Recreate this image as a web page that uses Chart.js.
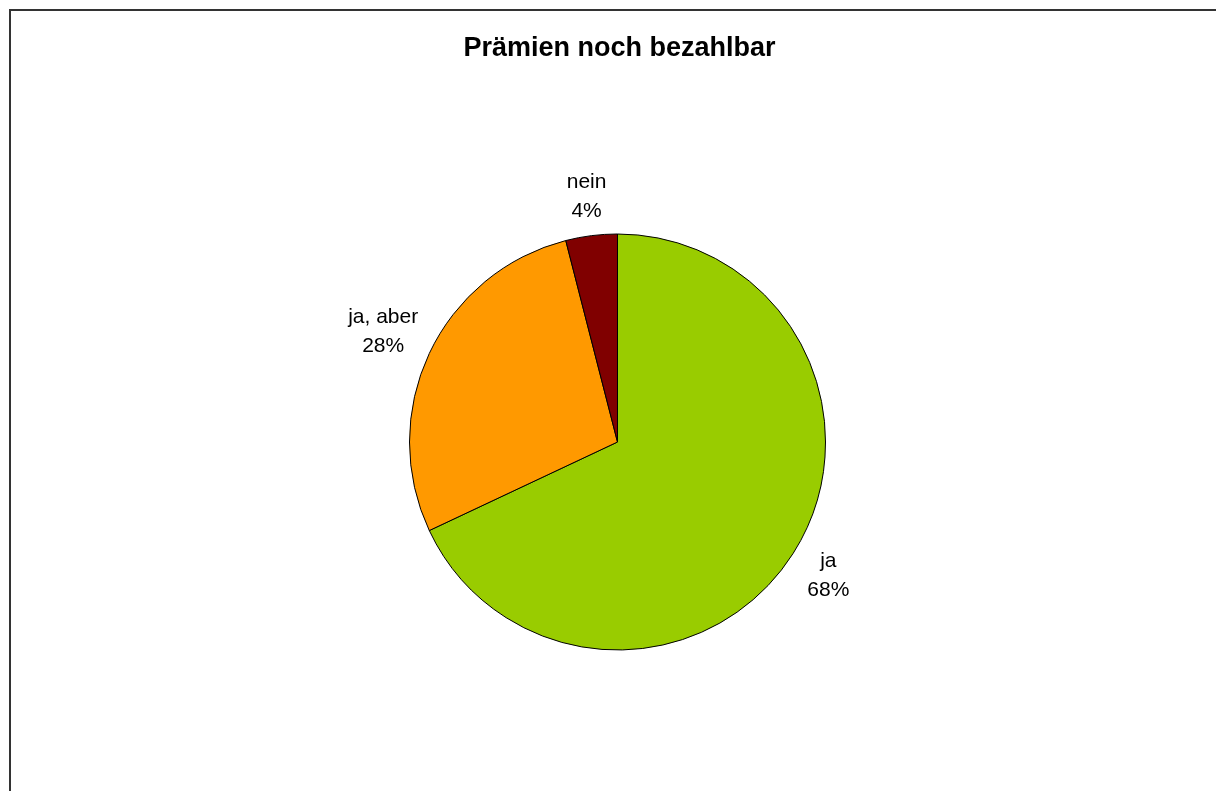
<!DOCTYPE html>
<html>
<head>
<meta charset="utf-8">
<script src="https://cdn.jsdelivr.net/npm/chart.js@4"></script>
<style>
  html, body { margin: 0; padding: 0; background: #fff; }
  #pie { display: block; }
</style>
</head>
<body>
<canvas id="pie" width="1216" height="791"></canvas>
<script>
const chartTitle = 'Prämien noch bezahlbar';
const categories = ['ja', 'ja, aber', 'nein'];
const shares = [68, 28, 4];
const sliceColors = ['#99CC00', '#FF9900', '#800000'];

const font = '"Liberation Sans", Arial, sans-serif';

// frame + title, drawn like the old office chart
const framePlugin = {
    id: 'frame',
    beforeDraw(chart) {
        const ctx = chart.ctx;
        ctx.save();
        ctx.fillStyle = '#fff';
        ctx.fillRect(0, 0, chart.width, chart.height);
        ctx.strokeStyle = '#333';
        ctx.lineWidth = 2;
        ctx.beginPath();
        ctx.moveTo(10, chart.height + 5);
        ctx.lineTo(10, 10);
        ctx.lineTo(chart.width + 5, 10);
        ctx.stroke();
        ctx.restore();
    },
    afterDraw(chart) {
        const ctx = chart.ctx;
        ctx.save();
        ctx.fillStyle = '#000';
        ctx.font = 'bold 27px ' + font;
        ctx.textAlign = 'center';
        ctx.textBaseline = 'alphabetic';
        ctx.fillText(chartTitle, 619.5, 56);
        ctx.restore();
    }
};

// "label / nn%" outside each slice, along its middle angle
const outsideLabels = {
    id: 'outsideLabels',
    afterDatasetsDraw(chart) {
        const ctx = chart.ctx;
        const meta = chart.getDatasetMeta(0);
        const total = shares.reduce((a, b) => a + b, 0);
        ctx.save();
        ctx.fillStyle = '#000';
        ctx.font = '21px ' + font;
        ctx.textAlign = 'center';
        ctx.textBaseline = 'middle';
        meta.data.forEach((arc, i) => {
            const p = arc.getProps(['x', 'y', 'startAngle', 'endAngle', 'outerRadius'], true);
            const mid = (p.startAngle + p.endAngle) / 2;
            const pct = Math.round(shares[i] / total * 100) + '%';
            const w = Math.max(ctx.measureText(categories[i]).width, ctx.measureText(pct).width);
            const cx = Math.cos(mid), cy = Math.sin(mid);
            const dist = p.outerRadius + 15 + Math.abs(cx) * w * 0.42 + Math.abs(cy) * 22;
            const lx = p.x + cx * dist;
            const ly = p.y + cy * dist;
            ctx.fillText(categories[i], lx, ly - 14.5);
            ctx.fillText(pct, lx, ly + 14.5);
        });
        ctx.restore();
    }
};

new Chart(document.getElementById('pie'), {
    type: 'pie',
    data: {
        labels: categories,
        datasets: [{
            data: shares,
            backgroundColor: sliceColors,
            borderColor: '#000',
            borderWidth: 1,
            hoverOffset: 0,
            radius: 208
        }]
    },
    options: {
        responsive: false,
        animation: false,
        layout: { padding: { left: 409.5, right: 390.5, top: 234, bottom: 141 } },
        plugins: {
            legend: { display: false },
            tooltip: { enabled: false },
            title: { display: false }
        }
    },
    plugins: [framePlugin, outsideLabels]
});
</script>
</body>
</html>
